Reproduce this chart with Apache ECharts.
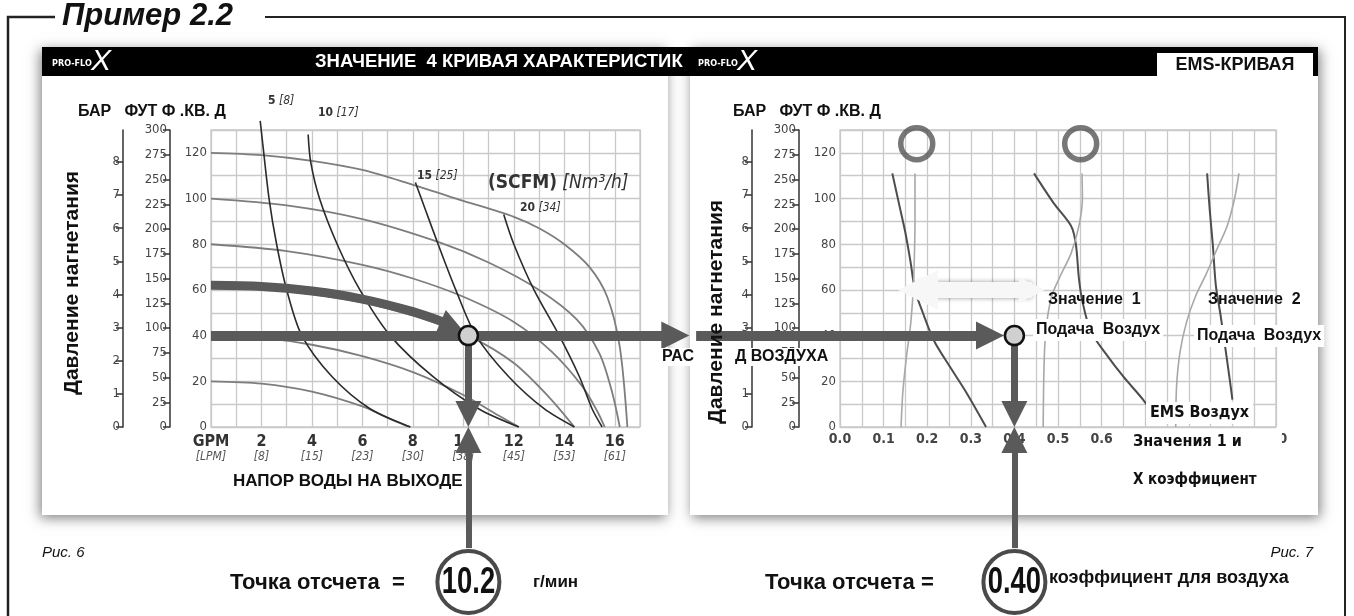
<!DOCTYPE html>
<html>
<head>
<meta charset="utf-8">
<script src="https://cdn.jsdelivr.net/npm/echarts@6/dist/echarts.min.js"></script>
<style>
  html, body { margin: 0; padding: 0; background: #fff; }
  #chart { width: 1354px; height: 616px; }
</style>
</head>
<body>
<div id="chart"></div>
<script>
// ===== данные (Рис. 6) =====
var gpmTicks = [0, 2, 4, 6, 8, 10, 12, 14, 16];
var lpmTicks = ['LPM', 8, 15, 23, 30, 38, 45, 53, 61];
var psiTicks = [0, 20, 40, 60, 80, 100, 120];
var ftTicks = [0, 25, 50, 75, 100, 125, 150, 175, 200, 225, 250, 275, 300];
var barTicks = [0, 1, 2, 3, 4, 5, 6, 7, 8];

// давление воздуха на входе, [GPM, PSI]
var psi120 = [[0,120],[2,119],[4,116.5],[6,112.5],[8,106],[10,99],[12,92],[13,87],[14,80],[15,70],[15.7,57],[16.2,35],[16.5,0]];
var psi100 = [[0,100],[3,97],[6,91],[9,81],[11,72],[13,60],[14.5,47],[15.4,32],[15.9,15],[16.2,0]];
var psi80  = [[0,80],[3,77],[6,71],[8,65],[10,57],[12,46],[13.5,33],[14.7,18],[15.3,7],[15.6,0]];
var psi60  = [[0,62],[3,59.5],[6,54.5],[8.5,47],[10.2,40],[12,28],[13.4,13],[14.4,0]];
var psi40  = [[0,40],[2,39],[4,36],[6,31],[8,24],[10,14],[11.4,5],[12.2,0]];
var psi20  = [[0,20],[2,19],[4,15.5],[6,9],[7.2,3],[7.9,0]];
// выделенная кривая 60 PSI (толстая стрелка)
var psi60Bold = [[0,62],[2,61.5],[4,59.5],[6,56],[8,50.5],[9.2,46]];

// расход воздуха SCFM [Nm3/h]
var scfm5  = [[1.95,134],[2.05,124],[2.3,100],[2.6,80],[3.0,60],[3.6,40],[4.8,22],[6.3,8],[7.9,0]];
var scfm10 = [[3.85,128],[3.95,116],[4.3,100],[5.0,80],[5.9,60],[7.1,40],[8.8,22],[10.6,8],[12.2,0]];
var scfm15 = [[8.1,107],[8.5,95],[9.0,80],[9.7,60],[10.5,40],[11.8,22],[13.2,8],[14.4,0]];
var scfm20 = [[11.6,93],[12.0,80],[12.8,60],[13.8,40],[14.6,22],[15.1,8],[15.5,0]];

var dutyFlow = 10.2, dutyPsi = 40;

// ===== данные (Рис. 7, EMS) =====
var factorTicks = [0, 0.1, 0.2, 0.3, 0.4, 0.5, 0.6, 0.7, 0.8, 0.9, 1.0];
var emsDark1  = [[0.12,111],[0.135,98],[0.15,85],[0.162,72],[0.172,60],[0.19,50],[0.215,38],[0.25,27],[0.29,15],[0.335,0]];
var emsLight1 = [[0.172,111],[0.172,90],[0.17,70],[0.168,60],[0.162,45],[0.152,30],[0.144,15],[0.14,0]];
var emsDark2  = [[0.445,111],[0.49,98],[0.53,88],[0.541,80],[0.548,65],[0.556,55],[0.575,42],[0.61,32],[0.65,22],[0.695,12],[0.72,5]];
var emsLight2 = [[0.555,111],[0.556,100],[0.548,88],[0.53,76],[0.505,66],[0.485,57],[0.472,42],[0.468,27],[0.466,0]];
var emsDark3  = [[0.842,111],[0.848,95],[0.855,80],[0.862,62],[0.872,50],[0.882,37],[0.893,22],[0.9,12]];
var emsLight3 = [[0.915,111],[0.905,100],[0.888,88],[0.865,78],[0.84,67],[0.815,57],[0.795,46],[0.78,33],[0.772,18],[0.77,0]];
var emsIcons  = [[0.176,124],[0.552,124]];

var airFactor = 0.40;

// ===== оформление =====
var NARROW = "'Liberation Sans Narrow','DejaVu Sans Condensed',sans-serif";
var SANS = "'Liberation Sans',Arial,sans-serif";
var ARROW = '#5a5a5a';
var GRIDLINE = '#c9c9c9';
var RESULT_PSI = -67.8;

var chart = echarts.init(document.getElementById('chart'));

function curve(data, xi, color, width) {
  return {
    type: 'line', xAxisIndex: xi, yAxisIndex: xi === 0 ? 0 : 3,
    data: data, smooth: 0.3, showSymbol: false, symbol: 'none', clip: false,
    lineStyle: { color: color, width: width }, z: 3, silent: true
  };
}
function arrow(coords, xi, width, symbols, size, z) {
  return {
    type: 'lines', coordinateSystem: 'cartesian2d',
    xAxisIndex: xi, yAxisIndex: xi === 0 ? 0 : 3, clip: false,
    symbol: symbols, symbolSize: size,
    lineStyle: { color: ARROW, width: width, opacity: 1, curveness: 0 },
    data: [{ coords: coords }], z: z || 6, silent: true
  };
}
function point(x, y, xi, size, fill, border, bw, z) {
  return {
    type: 'scatter', xAxisIndex: xi, yAxisIndex: xi === 0 ? 0 : 3, clip: false,
    data: [[x, y]], symbol: 'circle', symbolSize: size, silent: true, z: z || 8,
    itemStyle: { color: fill, borderColor: border, borderWidth: bw, opacity: 1 }
  };
}
function txt(x, y, text, font, extra, more) {
  return Object.assign({
    type: 'text', x: x, y: y, z: 50,
    style: Object.assign({ text: text, font: font, fill: '#111', align: 'left', verticalAlign: 'middle' }, extra || {})
  }, more || {});
}
function scfmLabel(x, y, a, b) {
  return txt(x, y, '{a|' + a + '} {b|[' + b + ']}', '12px ' + NARROW, {
    rich: { a: { font: 'bold 12px ' + NARROW, fill: '#333' }, b: { font: 'italic 12px ' + NARROW, fill: '#333' } }
  });
}

function psiAxis(grid) {
  return {
    type: 'value', gridIndex: grid, min: 0, max: 130, interval: 10,
    axisLine: { show: false }, axisTick: { show: false },
    axisLabel: { customValues: psiTicks, margin: 4, fontFamily: NARROW, fontSize: 13, color: '#444' },
    splitLine: { show: true, lineStyle: { color: GRIDLINE, width: 1.3 } }
  };
}
function ftAxis(grid) {
  return {
    type: 'value', gridIndex: grid, position: 'left', offset: 41, min: 0, max: 300, interval: 25,
    axisLine: { show: true, lineStyle: { color: '#333', width: 1.5 } },
    axisTick: { show: true, length: 7, lineStyle: { color: '#333', width: 1.5 } },
    axisLabel: { customValues: ftTicks, margin: 3, fontFamily: NARROW, fontSize: 13, color: '#444' },
    splitLine: { show: false }
  };
}
function barAxis(grid) {
  return {
    type: 'value', gridIndex: grid, position: 'left', offset: 88, min: 0, max: 130 / 14.5038,
    axisLine: { show: true, lineStyle: { color: '#333', width: 1.5 } },
    axisTick: { show: true, length: 7, customValues: barTicks, lineStyle: { color: '#333', width: 1.5 } },
    axisLabel: { customValues: barTicks, margin: 3, fontFamily: NARROW, fontSize: 13, color: '#444' },
    splitLine: { show: false }
  };
}

var option = {
  animation: false,
  backgroundColor: '#fff',
  grid: [
    { left: 211, top: 130, width: 429, height: 297, show: true, borderColor: GRIDLINE, borderWidth: 1.3 },
    { left: 840, top: 130, width: 436, height: 297, show: true, borderColor: GRIDLINE, borderWidth: 1.3 }
  ],
  xAxis: [
    {
      type: 'value', gridIndex: 0, min: 0, max: 17, interval: 1,
      axisLine: { show: false }, axisTick: { show: false },
      axisLabel: {
        customValues: gpmTicks, margin: 7,
        formatter: function (v) {
          var i = gpmTicks.indexOf(v);
          return i === 0 ? '{a|GPM}\n{b|[LPM]}' : '{a|' + v + '}\n{b|[' + lpmTicks[i] + ']}';
        },
        rich: {
          a: { fontFamily: NARROW, fontWeight: 'bold', fontSize: 16, color: '#333', lineHeight: 16 },
          b: { fontFamily: NARROW, fontStyle: 'italic', fontSize: 12, color: '#555', lineHeight: 13 }
        }
      },
      splitLine: { show: true, lineStyle: { color: GRIDLINE, width: 1.3 } }
    },
    {
      type: 'value', gridIndex: 1, min: 0, max: 1, interval: 0.05,
      axisLine: { show: false }, axisTick: { show: false },
      axisLabel: {
        customValues: factorTicks, margin: 5,
        formatter: function (v) { return v.toFixed(1); },
        fontFamily: NARROW, fontWeight: 'bold', fontSize: 14, color: '#444'
      },
      splitLine: { show: true, lineStyle: { color: GRIDLINE, width: 1.3 } }
    }
  ],
  yAxis: [psiAxis(0), ftAxis(0), barAxis(0), psiAxis(1), ftAxis(1), barAxis(1)],
  series: [
    // Рис. 6 — кривые давления воздуха
    curve(psi120, 0, '#7d7d7d', 1.8),
    curve(psi100, 0, '#7d7d7d', 1.8),
    curve(psi80, 0, '#7d7d7d', 1.8),
    curve(psi60, 0, '#7d7d7d', 1.8),
    curve(psi40, 0, '#7d7d7d', 1.8),
    curve(psi20, 0, '#7d7d7d', 1.8),
    // кривые расхода воздуха
    curve(scfm5, 0, '#2b2b2b', 1.6),
    curve(scfm10, 0, '#2b2b2b', 1.6),
    curve(scfm15, 0, '#2b2b2b', 1.6),
    curve(scfm20, 0, '#2b2b2b', 1.6),
    // толстая стрелка 60 PSI
    Object.assign(curve(psi60Bold, 0, ARROW, 9), { z: 5 }),
    arrow([psi60Bold[psi60Bold.length - 1], [9.55, 44.3]], 0, 6, ['none', 'triangle'], [26, 24]),
    // горизонтальная стрелка 40 PSI
    arrow([[0, dutyPsi], [18.4, dutyPsi]], 0, 10, ['none', 'triangle'], [32, 28]),
    // вертикальные стрелки
    arrow([[dutyFlow, dutyPsi], [dutyFlow, 5.7]], 0, 7, ['none', 'triangle'], [28, 26]),
    arrow([[dutyFlow, -53], [dutyFlow, -5.7]], 0, 6, ['none', 'triangle'], [28, 26]),
    point(dutyFlow, dutyPsi, 0, 19, '#d0d0d0', '#111', 2.5),
    point(dutyFlow, RESULT_PSI, 0, 62, '#fff', '#4a4a4a', 4),

    // Рис. 7 — EMS
    curve(emsDark1, 1, '#4d4d4d', 2),
    curve(emsLight1, 1, '#a8a8a8', 1.6),
    curve(emsDark2, 1, '#4d4d4d', 2),
    curve(emsLight2, 1, '#a8a8a8', 1.6),
    curve(emsDark3, 1, '#4d4d4d', 2),
    curve(emsLight3, 1, '#a8a8a8', 1.6),
    {
      type: 'scatter', xAxisIndex: 1, yAxisIndex: 3, data: emsIcons, symbol: 'circle', symbolSize: 32,
      silent: true, z: 4, itemStyle: { color: 'rgba(255,255,255,0)', borderColor: '#555', borderWidth: 5.5 }
    },
    {
      type: 'lines', coordinateSystem: 'cartesian2d', xAxisIndex: 1, yAxisIndex: 3, clip: false,
      symbol: ['triangle', 'triangle'], symbolSize: [40, 26], silent: true, z: 4,
      lineStyle: { color: '#f7f7f7', width: 16, opacity: 1, shadowColor: 'rgba(0,0,0,0.4)', shadowBlur: 5 },
      data: [{ coords: [[0.179, 60], [0.44, 60]] }]
    },
    arrow([[-0.33, dutyPsi], [0.344, dutyPsi]], 1, 10, ['none', 'triangle'], [32, 28]),
    arrow([[airFactor, dutyPsi], [airFactor, 5.7]], 1, 7, ['none', 'triangle'], [28, 26]),
    arrow([[airFactor, -53], [airFactor, -5.7]], 1, 6, ['none', 'triangle'], [28, 26]),
    point(airFactor, dutyPsi, 1, 19, '#d0d0d0', '#111', 2.5),
    point(airFactor, RESULT_PSI, 1, 62, '#fff', '#4a4a4a', 4)
  ],
  graphic: [
    // рамка
    { type: 'polyline', z: -10, shape: { points: [[55, 17], [8, 17], [8, 620]] }, style: { stroke: '#222', lineWidth: 2.5, fill: null } },
    { type: 'polyline', z: -10, shape: { points: [[265, 17], [1345, 17], [1345, 620]] }, style: { stroke: '#222', lineWidth: 2, fill: null } },
    txt(62, 16, 'Пример 2.2', 'italic bold 31px ' + SANS),
    // панели
    { type: 'rect', z: -8, shape: { x: 42, y: 47, width: 626, height: 468 },
      style: { fill: '#fff', shadowBlur: 12, shadowColor: 'rgba(0,0,0,0.5)', shadowOffsetY: 3, shadowOffsetX: -2 } },
    { type: 'rect', z: -8, shape: { x: 690, y: 47, width: 628, height: 468 },
      style: { fill: '#fff', shadowBlur: 12, shadowColor: 'rgba(0,0,0,0.5)', shadowOffsetY: 3, shadowOffsetX: 2 } },
    { type: 'rect', z: -7, shape: { x: 42, y: 47, width: 1276, height: 29 }, style: { fill: '#000' } },
    txt(315, 62, 'ЗНАЧЕНИЕ  4 КРИВАЯ ХАРАКТЕРИСТИК', 'bold 18.5px ' + SANS, { fill: '#fff' }),
    { type: 'rect', z: 40, shape: { x: 1157, y: 53, width: 156, height: 23 }, style: { fill: '#fff' } },
    txt(1235, 65, 'EMS-КРИВАЯ', 'bold 18px ' + SANS, { align: 'center' }),
    // логотипы
    txt(52, 64, 'PRO-FLO', 'bold 9px ' + NARROW, { fill: '#fff' }),
    txt(91, 62, 'X', 'italic 30px ' + SANS, { fill: '#fff' }),
    txt(698, 64, 'PRO-FLO', 'bold 9px ' + NARROW, { fill: '#fff' }),
    txt(737, 62, 'X', 'italic 30px ' + SANS, { fill: '#fff' }),
    // заголовки осей
    txt(78, 112, 'БАР   ФУТ Ф .КВ. Д', 'bold 16px ' + SANS),
    txt(733, 112, 'БАР   ФУТ Ф .КВ. Д', 'bold 16px ' + SANS),
    { type: 'text', x: 72, y: 283, rotation: Math.PI / 2, z: 50,
      style: { text: 'Давление нагнетания', font: 'bold 21px ' + SANS, fill: '#111', align: 'center', verticalAlign: 'middle' } },
    // подписи Рис. 6
    scfmLabel(268, 101, '5', 8),
    scfmLabel(318, 113, '10', 17),
    scfmLabel(417, 176, '15', 25),
    scfmLabel(520, 208, '20', 34),
    txt(488, 183, '{a|(SCFM)} {b|[Nm³/h]}', '18px ' + NARROW, { rich: { a: { font: 'bold 19px ' + NARROW, fill: '#333' }, b: { font: 'italic 19px ' + NARROW, fill: '#333' } } }),
    txt(233, 481, 'НАПОР ВОДЫ НА ВЫХОДЕ', 'bold 17px ' + SANS),
    txt(42, 553, 'Рис. 6', 'italic 15px ' + SANS),
    txt(230, 583, 'Точка отсчета  =', 'bold 22px ' + SANS),
    txt(533, 582, 'г/мин', 'bold 17px ' + SANS),
    txt(468.5, 583, String(dutyFlow), 'bold 36px ' + SANS, { align: 'center' }, { scaleX: 0.76, z: 60 }),
    // подписи Рис. 7
    txt(660, 357, 'РАС', 'bold 16px ' + SANS, { backgroundColor: '#fff', padding: [1, 2] }),
    txt(733, 357, 'Д ВОЗДУХА', 'bold 16px ' + SANS, { backgroundColor: '#fff', padding: [1, 2] }),
    { type: 'text', x: 716, y: 312, rotation: Math.PI / 2, z: 50,
      style: { text: 'Давление нагнетания', font: 'bold 21px ' + SANS, fill: '#111', align: 'center', verticalAlign: 'middle' } },
    txt(1048, 300, 'Значение  1', 'bold 16px ' + SANS),
    txt(1208, 300, 'Значение  2', 'bold 16px ' + SANS),
    txt(1033, 330, 'Подача  Воздух', 'bold 16px ' + SANS, { backgroundColor: '#fff', padding: [3, 3] }),
    txt(1194, 336, 'Подача  Воздух', 'bold 16px ' + SANS, { backgroundColor: '#fff', padding: [3, 3] }),
    txt(1146, 413, 'EMS Воздух', 'bold 16px ' + NARROW, { backgroundColor: '#fff', padding: [3, 4] }),
    txt(1130, 442, 'Значения 1 и', 'bold 16px ' + NARROW, { backgroundColor: '#fff', padding: [4, 40, 4, 3] }),
    txt(1133, 480, 'X коэффициент', 'bold 15px ' + NARROW),
    txt(1313, 553, 'Рис. 7', 'italic 15px ' + SANS, { align: 'right' }),
    txt(765, 583, 'Точка отсчета =', 'bold 22px ' + SANS),
    txt(1014.4, 583, airFactor.toFixed(2), 'bold 36px ' + SANS, { align: 'center' }, { scaleX: 0.76, z: 60 }),
    txt(1049, 578, 'коэффициент для воздуха', 'bold 18px ' + SANS)
  ]
};

chart.setOption(option);
</script>
</body>
</html>
